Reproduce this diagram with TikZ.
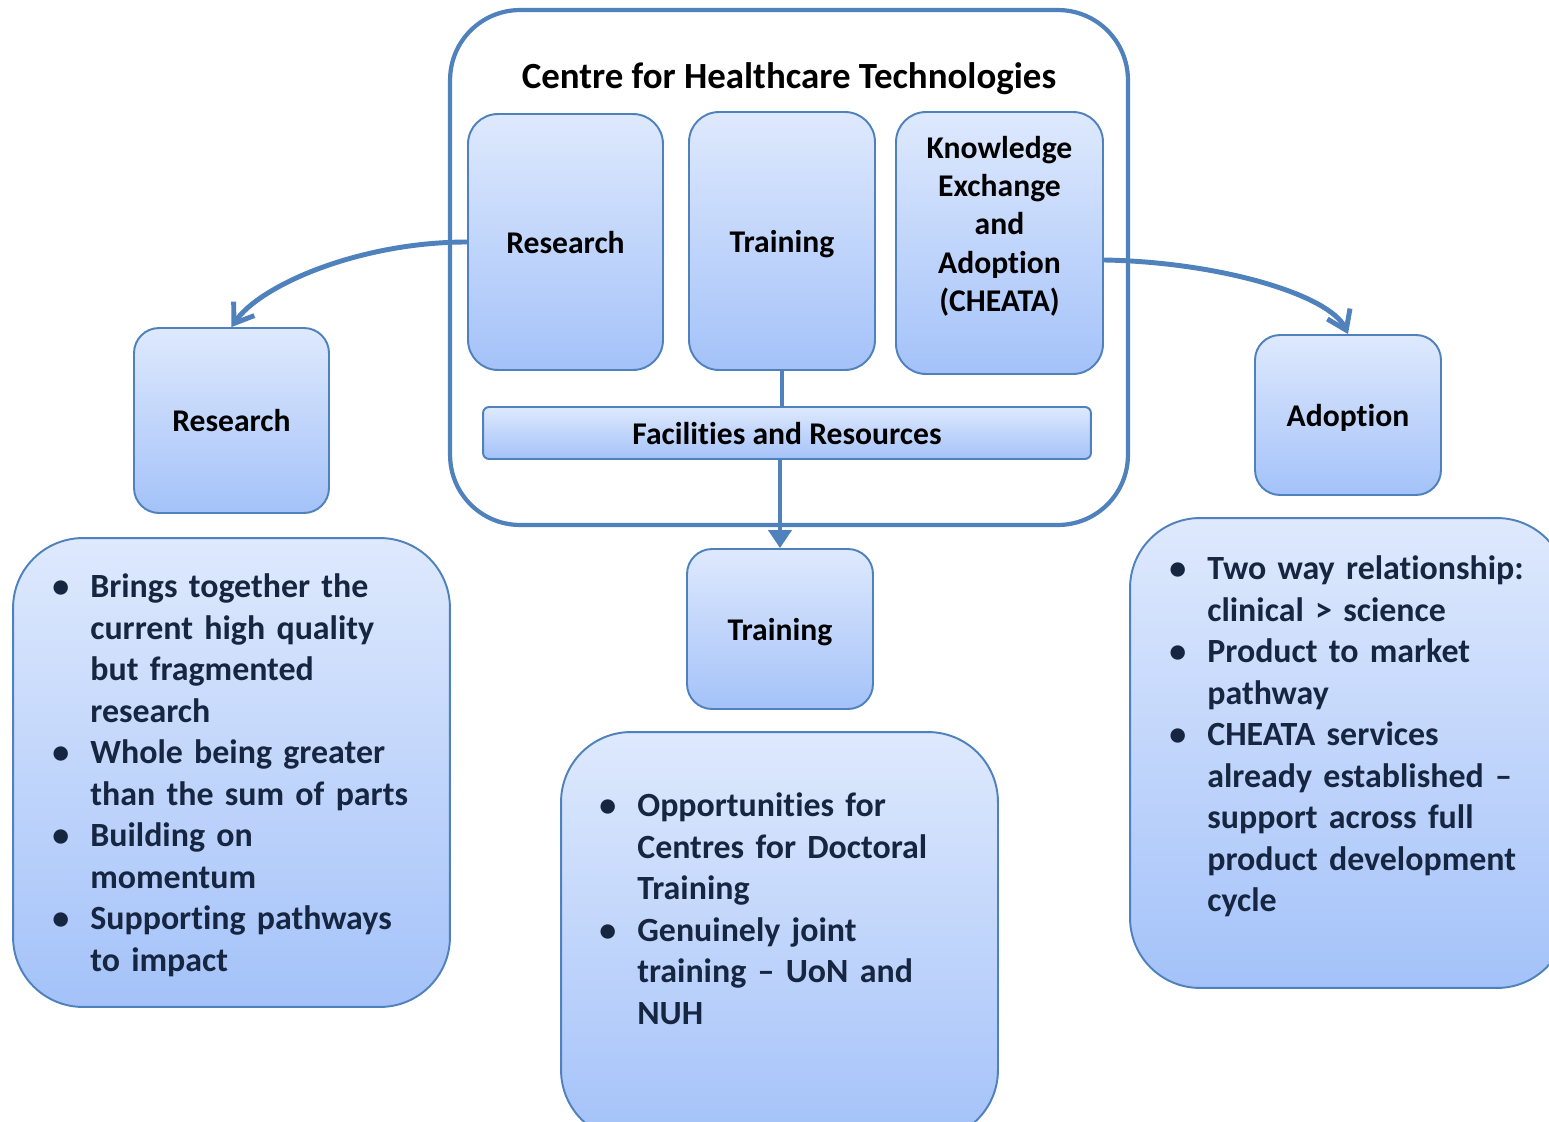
\documentclass[tikz,border=0pt]{standalone}
\usepackage{fontspec}
\setmainfont{Carlito}[Ligatures={TeX,NoCommon,NoContextual},Contextuals=NoAlternate]
\usetikzlibrary{arrows.meta}
\definecolor{chtline}{RGB}{79,129,189}
\definecolor{chttop}{RGB}{222,233,253}
\definecolor{chtbottom}{RGB}{164,194,249}
\definecolor{chttext}{RGB}{23,38,64}
\newcommand{\bulind}{0.6cm}
\newcommand{\bulsep}{0.42cm}
\newcommand{\bitem}{\par\leftskip=\bulind\noindent\llap{\textbullet\hspace{\bulsep}}}
\begin{document}
\begin{tikzpicture}[x=0.02cm,y=-0.02cm,
    frame/.style={draw=chtline,line width=2.4pt,fill=white,rounded corners=1.4cm},
    cbox/.style={draw=chtline,line width=1.1pt,top color=chttop,bottom color=chtbottom,
      rounded corners=#1,inner sep=0pt},
    head/.style={font=\fontsize{18}{21.8}\selectfont\bfseries,text=black,align=center},
    boxlabel/.style={head,text depth=0pt},
    bullets/.style={anchor=base west,inner sep=0pt,text width=8cm,align=left,text=chttext,
      font=\fontsize{19.3}{23.65}\selectfont\bfseries},
    link/.style={draw=chtline,line width=2.8pt},
    stem/.style={draw=chtline,line width=2.3pt}]
    \useasboundingbox (0,0) rectangle (1549,1122);
    \fill[white] (0,0) rectangle (1549,1122);

    \node[frame,minimum width=13.56cm,minimum height=10.3cm] (cht) at (789,267.5) {};
    \node[font=\fontsize{21}{25}\selectfont\bfseries] (chttitle) at (789,79)
      {Centre for Healthcare Technologies};

    \node[cbox=0.6cm,minimum width=3.9cm,minimum height=5.12cm,boxlabel] (resin) at (565.5,242) {Research};
    \node[cbox=0.6cm,minimum width=3.72cm,minimum height=5.16cm,boxlabel] (trainin) at (782,241) {Training};
    \node[cbox=0.6cm,minimum width=4.14cm,minimum height=5.24cm] (keain) at (999.5,243) {};
    \node[head] (keatext) at (999.5,226) {Knowledge\\Exchange\\and\\Adoption\\(CHEATA)};
    \node[cbox=0.12cm,minimum width=12.16cm,minimum height=1.04cm,boxlabel] (facil) at (787,433)
      {Facilities and Resources};

    \node[cbox=0.5cm,minimum width=3.9cm,minimum height=3.7cm,boxlabel] (resout) at (231.5,420.5) {Research};
    \node[cbox=0.5cm,minimum width=3.72cm,minimum height=3.2cm,boxlabel] (trainout) at (780,629) {Training};
    \node[cbox=0.5cm,minimum width=3.72cm,minimum height=3.2cm,boxlabel] (adoptout) at (1348,415) {Adoption};

    \node[cbox=1.4cm,minimum width=8.74cm,minimum height=9.38cm] (resbox) at (231.5,772.5) {};
    \node[cbox=1.4cm,minimum width=8.74cm,minimum height=8.16cm] (trainbox) at (779.5,936) {};
    \node[cbox=1.4cm,minimum width=8.74cm,minimum height=9.4cm] (adoptbox) at (1348.5,753) {};

    \node[bullets] (restext) at (60,556)
      {\bitem Brings together the\\current high quality\\but fragmented\\research
       \bitem Whole being greater\\than the sum of parts
       \bitem Building on\\momentum
       \bitem Supporting pathways\\to impact\par};
    \node[bullets] (traintext) at (607,775)
      {\bitem Opportunities for\\Centres for Doctoral\\Training
       \bitem Genuinely joint\\training – UoN and\\NUH\par};
    \node[bullets] (adopttext) at (1177,538)
      {\bitem Two way relationship:\\clinical > science
       \bitem Product to market\\pathway
       \bitem CHEATA services\\already established –\\support across full\\product development\\cycle\par};

    \draw[link,-{Straight Barb[length=0.36cm,width=0.5cm]}] (resin.west)
      .. controls (360,242) and (260,285) .. (resout.north);
    \draw[link,-{Straight Barb[length=0.36cm,width=0.5cm]}] ([yshift=-0.34cm]keain.east)
      .. controls (1220,262) and (1330,295) .. (adoptout.north);
    \draw[stem] (trainin.south) -- (trainin.south |- facil.north);
    \draw[stem,-{Triangle[length=0.36cm,width=0.46cm]}] (trainout.north |- facil.south) -- (trainout.north);
\end{tikzpicture}
\end{document}
